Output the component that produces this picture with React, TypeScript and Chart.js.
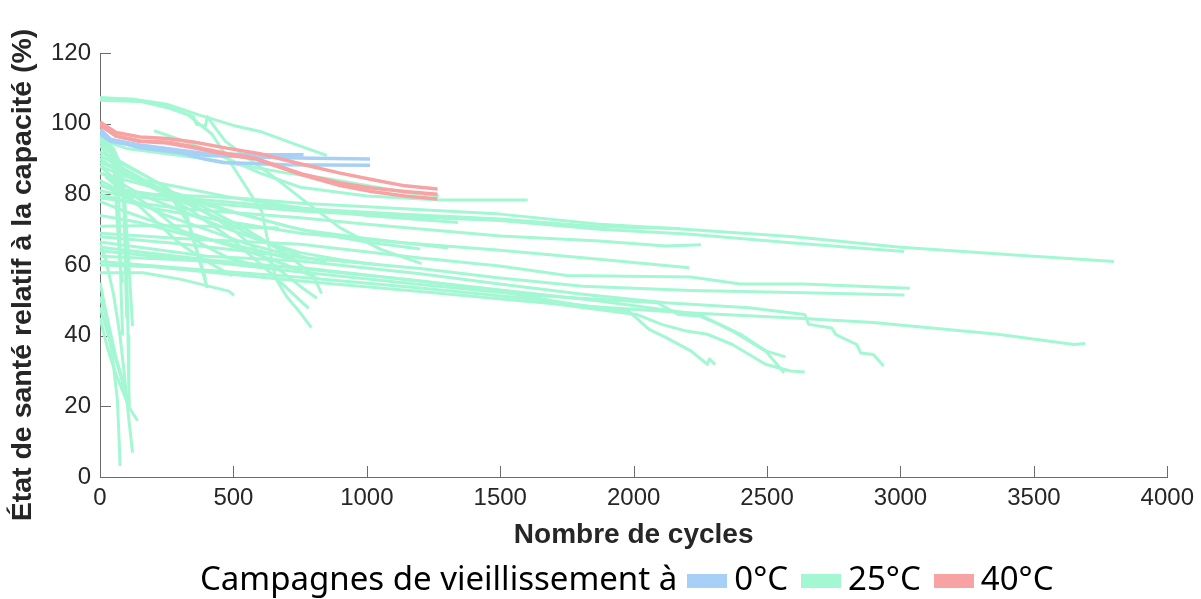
import React, { useEffect, useRef } from 'react';
import { Chart, registerables } from 'chart.js';

Chart.register(...registerables);

type Pt = [number, number];

const legendTitle = 'Campagnes de vieillissement à';
const campaignLabels = ['0°C', '25°C', '40°C'];
const campaignColors = ['#a6d0f6', '#a3f7d2', '#f7a3a3'];
const xTitle = 'Nombre de cycles';
const yTitle = 'État de santé relatif à la capacité (%)';
const xTickValues = [0, 500, 1000, 1500, 2000, 2500, 3000, 3500, 4000];
const yTickValues = [0, 20, 40, 60, 80, 100, 120];

const cells0C: Pt[][] = [
  [[0, 98], [40, 95.5], [150, 94], [300, 92.5], [400, 91.5], [600, 91.2], [763, 91.2]],
  [[0, 97], [40, 95], [150, 93.5], [300, 92], [400, 91], [600, 90.5], [800, 90.2], [1012, 90]],
  [[0, 98.5], [40, 95.5], [150, 93.2], [300, 91.8], [396, 89.9], [460, 89], [700, 88.4], [1012, 88.2]],
];

const cells40C: Pt[][] = [
  [[0, 100.5], [20, 99.5], [60, 97.5], [150, 96.2], [250, 95.8], [350, 94.8], [480, 93], [600, 91.5], [757, 88.5], [900, 86], [1018, 84.2], [1143, 82.4], [1265, 81.5]],
  [[0, 100], [20, 99], [60, 96.5], [150, 95], [250, 94.8], [350, 93.5], [480, 91.5], [583, 90.2], [757, 85.8], [900, 83.2], [1018, 81.8], [1143, 80.8], [1265, 80]],
  [[0, 99.5], [60, 96.5], [150, 95], [250, 94.5], [350, 93.2], [480, 91.2], [583, 90], [757, 85.5], [900, 82.5], [1018, 80.8], [1143, 79.5], [1265, 78.7]],
];

const cells25C: Pt[][] = [
  [[0, 107], [120, 107], [250, 105.5], [370, 102.5], [500, 99.5], [600, 97.8], [730, 94.2], [850, 91]],
  [[0, 106.6], [150, 106.3], [280, 104], [350, 102], [362, 99.8], [395, 99.3], [402, 102], [430, 99], [470, 95], [550, 90.5], [650, 85], [760, 78.5], [900, 70.5], [1050, 64.5], [1205, 60.4]],
  [[0, 107.4], [100, 107], [220, 105.5], [330, 102.5], [420, 97], [480, 90], [540, 83], [607, 75], [657, 56.4], [700, 51], [745, 47], [792, 42.3]],
  [[203, 98], [300, 95.5], [450, 91], [600, 86], [751, 82], [1000, 79.5], [1274, 78.4], [1603, 78.4]],
  [[0, 95.5], [100, 93], [250, 91.5], [400, 90], [550, 88], [700, 86], [850, 84.5], [1000, 82.5], [1150, 80.5], [1270, 79.5]],
  [[0, 84], [60, 81.5], [200, 80], [500, 79], [751, 77.5], [1000, 76.5], [1500, 74.4], [1871, 71.5], [2180, 70.2], [2600, 68], [3000, 65], [3400, 63], [3800, 61]],
  [[0, 82.5], [80, 80.5], [300, 79], [751, 76], [1100, 74.5], [1500, 73], [1871, 70.8], [2174, 70.3]],
  [[0, 81], [100, 79.5], [400, 77.5], [751, 75.3], [1100, 73.8], [1500, 72.6], [1871, 70.1], [2200, 68.8], [2600, 66.2], [3013, 63.8]],
  [[0, 79], [300, 76], [751, 73.4], [1000, 71.5], [1500, 68.2], [1871, 66.8], [2120, 65.4], [2252, 65.7]],
  [[0, 80], [200, 76], [500, 72], [751, 69], [1100, 66.5], [1500, 64.2], [1871, 61.6], [2208, 59.2]],
  [[0, 69], [300, 67.5], [751, 65.9], [1200, 62], [1498, 59.7], [1750, 57], [2214, 56.6], [2400, 54.6], [2634, 54.6], [3035, 53.4]],
  [[0, 68], [300, 66], [751, 62.1], [1200, 59], [1498, 56.3], [1809, 54], [2214, 52.8], [2600, 52.2], [3015, 51.5]],
  [[0, 62.5], [300, 61.5], [751, 59.3], [1200, 55.5], [1498, 52.5], [1809, 48.4], [2200, 46.5], [2600, 45], [2898, 43.7], [3365, 40.4], [3650, 37.5], [3692, 37.8]],
  [[0, 66.5], [400, 62.5], [751, 61.1], [1200, 57.5], [1498, 54.6], [1809, 51.7], [2120, 49.3], [2431, 47.9], [2641, 46], [2656, 43.2], [2742, 42.2], [2758, 40.3], [2836, 37.5], [2851, 35.1], [2898, 34.7], [2937, 31.4]],
  [[0, 64], [400, 61], [751, 58], [1200, 54.5], [1600, 51.5], [2089, 49.3], [2167, 46], [2245, 45.6], [2323, 43.2], [2401, 40.4], [2494, 35.7], [2569, 34]],
  [[0, 60], [200, 59.5], [751, 55.5], [1200, 52.5], [1700, 49], [2011, 46], [2105, 43.2], [2198, 41.3], [2276, 40.4], [2370, 37.5], [2494, 31.9], [2587, 30], [2641, 29.7]],
  [[0, 61], [400, 58.5], [751, 56.5], [1200, 53.5], [1600, 50.5], [1980, 47], [2058, 41.8], [2120, 39.5], [2167, 37.6], [2214, 35.7], [2276, 31.9], [2284, 33.4], [2305, 31.8]],
  [[0, 65], [400, 61.5], [751, 59], [1200, 55.5], [1871, 49.8], [2245, 46], [2370, 41.3], [2494, 35.7], [2564, 29.5]],
  [[0, 88], [100, 85], [300, 82], [500, 79], [751, 76.2], [1000, 74], [1342, 72]],
  [[0, 86], [100, 84], [300, 80], [500, 75], [751, 70], [1000, 67.5], [1305, 64.8]],
  [[0, 71], [200, 71.2], [400, 71], [670, 70.5]],
  [[0, 95], [60, 90], [200, 84], [350, 77], [500, 70], [650, 60], [750, 54], [813, 50.6]],
  [[0, 94], [60, 88], [200, 82], [350, 75], [500, 67], [650, 57], [782, 47.7]],
  [[0, 90], [80, 86], [250, 80], [450, 73], [600, 67], [770, 62]],
  [[0, 57.8], [160, 57.8], [300, 56], [483, 52.6], [502, 51.4]],
  [[0, 92], [100, 88], [250, 82], [321, 75], [360, 65], [396, 56]],
  [[0, 91], [120, 86], [260, 80], [330, 72], [370, 62], [402, 53.5]],
  [[20, 85], [100, 80], [200, 73], [300, 66], [400, 61], [495, 57]],
  [[0, 90], [60, 87], [150, 84], [250, 80.5], [400, 77], [550, 74], [700, 71], [850, 68.5], [1000, 66.5], [1200, 64.5]],
  [[0, 88], [60, 84], [150, 80], [300, 75.5], [450, 71], [600, 67], [750, 63.5], [900, 61.5], [1050, 60]],
  [[0, 83], [100, 79], [250, 74], [400, 70], [550, 66], [700, 63], [850, 61]],
  [[0, 78], [100, 75], [250, 71], [400, 67.5], [550, 64], [700, 60], [820, 56]],
  [[10, 86], [80, 82], [180, 77], [280, 71], [380, 66], [480, 62], [580, 60], [680, 58.5]],
  [[0, 74], [150, 72], [300, 69], [450, 66.5], [600, 64], [750, 61]],
  [[0, 89], [100, 86], [250, 81], [400, 76], [550, 70], [700, 63], [800, 57], [830, 52]],
  [[0, 55], [30, 44], [60, 33.8], [97, 24.3], [110, 15], [122, 6.9]],
  [[0, 51], [20, 46], [47, 33.8], [65, 22], [72, 10], [75, 3.1]],
  [[0, 45], [30, 36], [60, 29], [110, 19.6], [141, 15.9]],
  [[0, 48], [40, 38], [80, 28], [97, 22.5]],
  [[0, 94], [40, 90], [70, 86], [90, 80], [100, 70], [110, 58], [122, 42.7]],
  [[0, 96], [50, 93], [80, 88], [95, 75], [100, 60], [105, 40], [108, 25], [110, 20]],
  [[0, 97], [30, 95], [60, 90], [70, 80], [75, 65], [80, 50], [85, 40]],
  [[0, 95], [40, 92], [55, 85], [65, 72], [75, 60], [85, 55]],
  [[0, 66], [20, 62], [50, 52], [75, 40], [90, 30], [100, 22]],
  [[0, 97], [20, 94], [60, 91], [80, 84], [90, 76], [95, 60], [100, 45]],
];

const axisColor = '#6b6b6b';
const textColor = '#262626';
const tickFont = '"Liberation Sans", Arial, sans-serif';

const inwardTicks = {
  id: 'inwardTicks',
  beforeDatasetsDraw(chart: any) {
    const { ctx, chartArea, scales } = chart;
    const xs = scales.x;
    const ys = scales.y;
    ctx.save();
    ctx.strokeStyle = axisColor;
    ctx.lineWidth = 1;
    ctx.beginPath();
    for (const v of xTickValues) {
      const px = Math.round(xs.getPixelForValue(v)) + 0.5;
      ctx.moveTo(px, chartArea.bottom);
      ctx.lineTo(px, chartArea.bottom - 11);
    }
    for (const v of yTickValues) {
      const py = Math.round(ys.getPixelForValue(v)) + 0.5;
      ctx.moveTo(chartArea.left, py);
      ctx.lineTo(chartArea.left + 11, py);
    }
    ctx.stroke();
    ctx.restore();
  },
};

const yTitlePlugin = {
  id: 'yTitlePlugin',
  afterDraw(chart: any) {
    const { ctx, chartArea } = chart;
    ctx.save();
    ctx.translate(23, (chartArea.top + chartArea.bottom) / 2 + 10);
    ctx.rotate(-Math.PI / 2);
    ctx.font = 'bold 28.5px "Liberation Sans", Arial, sans-serif';
    ctx.fillStyle = textColor;
    ctx.textAlign = 'center';
    ctx.textBaseline = 'middle';
    ctx.fillText(yTitle, 0, 0);
    ctx.restore();
  },
};

export default function App() {
  const canvasRef = useRef<HTMLCanvasElement | null>(null);

  useEffect(() => {
    if (!canvasRef.current) return;
    const groups = [
      { cells: cells25C, color: campaignColors[1], width: 3, order: 3 },
      { cells: cells0C, color: campaignColors[0], width: 3.5, order: 2 },
      { cells: cells40C, color: campaignColors[2], width: 3.5, order: 1 },
    ];
    const datasets: any[] = [];
    groups.forEach((g) => {
      g.cells.forEach((pts) => {
        datasets.push({
          data: pts.map(([x, y]) => ({ x, y })),
          borderColor: g.color,
          backgroundColor: g.color,
          borderWidth: g.width,
          pointRadius: 0,
          pointHoverRadius: 0,
          fill: false,
          tension: 0,
          order: g.order,
          borderCapStyle: 'butt',
          borderJoinStyle: 'round',
        });
      });
    });

    const chart = new Chart(canvasRef.current, {
      type: 'line',
      data: { datasets },
      plugins: [inwardTicks, yTitlePlugin],
      options: {
        animation: false,
        responsive: false,
        parsing: false as any,
        layout: { autoPadding: false, padding: { top: 53, right: 29, left: 0, bottom: 0 } },
        plugins: { legend: { display: false }, tooltip: { enabled: false } },
        scales: {
          x: {
            type: 'linear',
            min: 0,
            max: 4000,
            afterBuildTicks: (s: any) => {
              s.ticks = xTickValues.map((v) => ({ value: v }));
            },
            afterFit: (s: any) => {
              s.height = 83;
            },
            ticks: {
              font: { family: tickFont, size: 24 },
              color: textColor,
              padding: 7,
              maxRotation: 0,
              autoSkip: false,
              callback: (v: any) => String(v),
            },
            grid: { display: false, drawTicks: false },
            border: { display: true, color: axisColor, width: 1 },
            title: {
              display: true,
              text: xTitle,
              color: textColor,
              font: { family: tickFont, size: 28, weight: 'bold' },
              padding: { top: 0, bottom: 8 },
            },
          },
          y: {
            type: 'linear',
            min: 0,
            max: 120,
            afterBuildTicks: (s: any) => {
              s.ticks = yTickValues.map((v) => ({ value: v }));
            },
            afterFit: (s: any) => {
              s.width = 100;
            },
            ticks: { font: { family: tickFont, size: 24 }, color: textColor, padding: 9, callback: (v: any) => String(v) },
            grid: { display: false, drawTicks: false },
            border: { display: true, color: axisColor, width: 1 },
            title: { display: false },
          },
        },
      } as any,
    });
    return () => chart.destroy();
  }, []);

  return (
    <div style={{ position: 'absolute', left: 0, top: 0, width: 1201, height: 599, background: '#fff', overflow: 'hidden' }}>
      <canvas ref={canvasRef} width={1201} height={560} style={{ display: 'block', width: 1201, height: 560 }} />
      <div
        style={{
          position: 'absolute',
          top: 555,
          left: 200,
          whiteSpace: 'nowrap',
          fontFamily: '"Noto Sans", sans-serif',
          fontSize: 33,
          color: '#000',
          lineHeight: 'normal',
        }}
      >
        <span>{legendTitle}</span>
        {campaignLabels.map((lab, i) => (
          <span key={lab} style={{ marginLeft: i === 0 ? 10 : 13 }}>
            <span
              style={{
                display: 'inline-block',
                width: 40,
                height: 14,
                background: campaignColors[i],
                verticalAlign: 'middle',
                marginRight: 7,
              }}
            />
            <span>{lab}</span>
          </span>
        ))}
      </div>
    </div>
  );
}
